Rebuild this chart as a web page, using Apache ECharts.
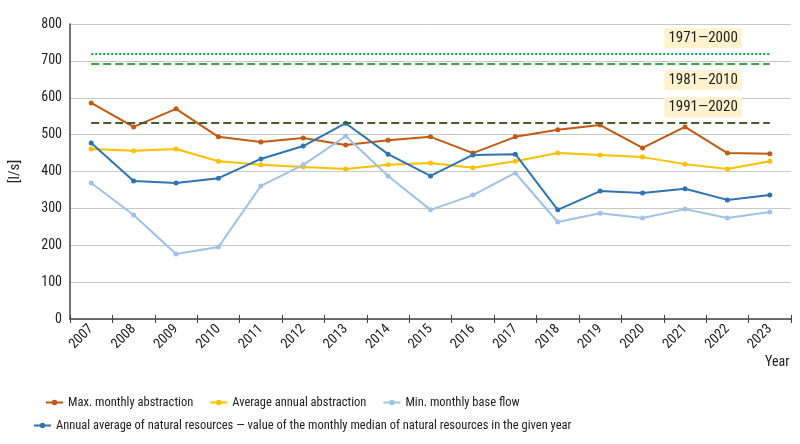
<!DOCTYPE html>
<html>
<head>
<meta charset="utf-8">
<script src="https://cdn.jsdelivr.net/npm/echarts@6/dist/echarts.min.js"></script>
<style>html,body{margin:0;padding:0;background:#fff}#c{width:800px;height:444px}</style>
</head>
<body>
<div id="c"></div>
<script>
const years = ['2007','2008','2009','2010','2011','2012','2013','2014','2015','2016','2017','2018','2019','2020','2021','2022','2023'];
const maxMonthly = [586,521,570,494,480,491,472,485,494,450,494,513,526,464,521,450,448];
const avgAnnual = [461,456,461,428,418,412,407,418,423,410,428,450,445,439,420,407,428];
const minBaseFlow = [369,282,176,195,361,418,496,388,296,336,396,263,287,274,298,274,290];
const naturalRes = [477,374,369,382,434,469,531,447,388,445,447,296,347,342,353,323,336];
const refNames = ['1971—2000','1981—2010','1991—2020'];
const refValues = [718,691,531];
const yTicks = [0,100,200,300,400,500,600,700,800];

const FONT = '"Liberation Sans Narrow", "Roboto Condensed", "Roboto", sans-serif';
const chart = echarts.init(document.getElementById('c'));

function mk(name, value, color, type, pos) {
  return [
    {coord:[years[0], value], lineStyle:{color:color, type:type, width:2}},
    {coord:[years[years.length-1], value],
     label:{show:true, formatter:name, position:pos, color:'#222', fontSize:15, fontFamily:FONT,
            backgroundColor:'#fff2cc', padding:[3,4,2,4], distance:[28,6]}}
  ];
}

chart.setOption({
  animation:false,
  textStyle:{fontFamily:FONT},
  grid:{left:64, right:9, top:24, bottom:125},
  graphic:[{type:'text', left:765, top:355, style:{text:'Year', fontSize:14, fill:'#222', fontFamily:FONT}}],
  legend:[
    {data:['Max. monthly abstraction','Average annual abstraction','Min. monthly base flow'],
     top:391, left:40, itemGap:16, itemWidth:17, itemHeight:7,
     textStyle:{fontSize:12.5, color:'#222', fontFamily:FONT}},
    {data:['Annual average of natural resources — value of the monthly median of natural resources in the given year'],
     top:414, left:28, itemWidth:17, itemHeight:7,
     textStyle:{fontSize:12.5, color:'#222', fontFamily:FONT}}
  ],
  xAxis:[
    {type:'category', data:years, boundaryGap:true,
     axisLine:{lineStyle:{color:'#444', width:1.5}},
     axisTick:{show:true, length:4, inside:false, lineStyle:{color:'#444'}},
     axisLabel:{rotate:45, fontSize:14, color:'#222', margin:8}},
    {type:'category', data:years, boundaryGap:true, position:'bottom',
     axisLine:{show:false},
     axisTick:{show:true, length:4, inside:true, lineStyle:{color:'#444'}},
     axisLabel:{show:false}}
  ],
  yAxis:{type:'value', min:yTicks[0], max:yTicks[yTicks.length-1], interval:100,
    name:'[l/s]', nameLocation:'middle', nameGap:47, nameRotate:90,
    nameTextStyle:{fontSize:15, color:'#222'},
    axisLine:{show:true, lineStyle:{color:'#444', width:1.5}},
    axisLabel:{fontSize:14, color:'#222'},
    splitLine:{lineStyle:{color:'#c8c8c8'}}},
  series:[
    {name:'Max. monthly abstraction', type:'line', data:maxMonthly, color:'#c55a11',
     symbol:'circle', symbolSize:5, lineStyle:{width:2},
     markLine:{symbol:'none', silent:true, animation:false,
       data:[mk(refNames[0],refValues[0],'#00b050','dotted','insideEndTop'),
             mk(refNames[1],refValues[1],'#3aa63a','dashed','insideEndBottom'),
             mk(refNames[2],refValues[2],'#4e5b31','dashed','insideEndTop')]}},
    {name:'Average annual abstraction', type:'line', data:avgAnnual, color:'#ffc000',
     symbol:'circle', symbolSize:5, lineStyle:{width:2}},
    {name:'Min. monthly base flow', type:'line', data:minBaseFlow, color:'#9dc3e6',
     symbol:'circle', symbolSize:5, lineStyle:{width:2}},
    {name:'Annual average of natural resources — value of the monthly median of natural resources in the given year',
     type:'line', data:naturalRes, color:'#2e75b6', symbol:'circle', symbolSize:5, lineStyle:{width:2}}
  ]
});
</script>
</body>
</html>
